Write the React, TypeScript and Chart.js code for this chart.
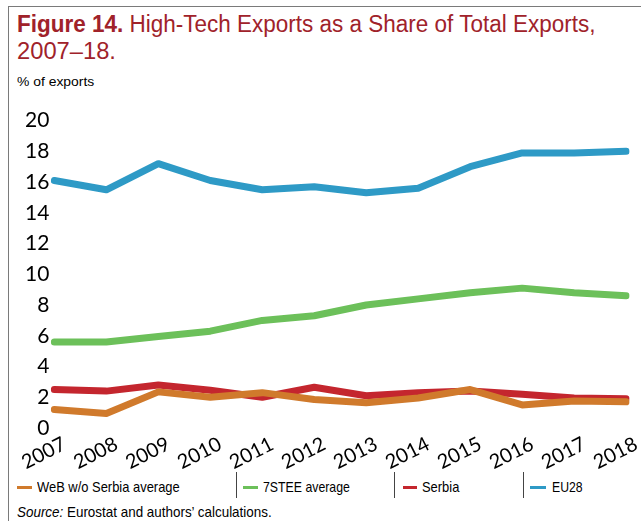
import React, { useEffect, useLayoutEffect, useRef } from "react";
import { Chart, registerables } from "chart.js";

Chart.register(...registerables);

const years = ["2007", "2008", "2009", "2010", "2011", "2012", "2013", "2014", "2015", "2016", "2017", "2018"];
const webWoSerbia = [1.2, 0.95, 2.35, 2.0, 2.3, 1.85, 1.65, 1.95, 2.5, 1.5, 1.75, 1.7];
const steeAverage = [5.6, 5.6, 5.95, 6.3, 7.0, 7.3, 8.0, 8.4, 8.8, 9.1, 8.8, 8.6];
const serbia = [2.5, 2.4, 2.8, 2.45, 2.0, 2.65, 2.1, 2.3, 2.4, 2.2, 1.95, 1.9];
const eu28 = [16.1, 15.5, 17.2, 16.1, 15.5, 15.7, 15.3, 15.6, 17.0, 17.9, 17.9, 18.0];
const yTicks = [0, 2, 4, 6, 8, 10, 12, 14, 16, 18, 20];

const seriesNames = ["WeB w/o Serbia average", "7STEE average", "Serbia", "EU28"];
const seriesColors = ["#d07a2c", "#6cc05a", "#c4262e", "#2e9ac6"];

const textFont = "'Liberation Sans', Arial, sans-serif";
const tickFont = "Lato, 'Open Sans', sans-serif";

function FitText(props: { target: number; style?: React.CSSProperties; children: React.ReactNode }) {
  const ref = useRef<HTMLSpanElement | null>(null);
  useLayoutEffect(() => {
    const el = ref.current;
    if (!el) return;
    const w = el.offsetWidth;
    if (w > 0) el.style.transform = `scaleX(${props.target / w})`;
  });
  return (
    <span
      ref={ref}
      style={{ display: "inline-block", whiteSpace: "nowrap", transformOrigin: "left center", ...props.style }}
    >
      {props.children}
    </span>
  );
}

export default function App() {
  const canvasRef = useRef<HTMLCanvasElement | null>(null);

  useEffect(() => {
    if (!canvasRef.current) return;
    const data = [webWoSerbia, steeAverage, serbia, eu28];
    const chart = new Chart(canvasRef.current, {
      type: "line",
      data: {
        labels: years,
        datasets: data.map((d, i) => ({
          label: seriesNames[i],
          data: d,
          borderColor: seriesColors[i],
          backgroundColor: seriesColors[i],
          borderWidth: 7,
          pointRadius: 0,
          tension: 0,
          borderCapStyle: "round" as const,
          borderJoinStyle: "round" as const,
        })),
      },
      options: {
        animation: false,
        responsive: false,
        maintainAspectRatio: false,
        layout: { padding: { top: 12, right: 13, bottom: 0, left: 0 } },
        plugins: { legend: { display: false }, tooltip: { enabled: false } },
        scales: {
          x: {
            offset: false,
            grid: { display: false, drawTicks: false },
            border: { display: false },
            ticks: {
              autoSkip: false,
              minRotation: 27,
              maxRotation: 27,
              labelOffset: 10,
              padding: 4,
              color: "#000",
              font: { family: tickFont, size: 20 },
            },
            afterFit: (s: any) => {
              s.height = 42;
            },
          },
          y: {
            min: 0,
            max: 20,
            grid: { display: false, drawTicks: false },
            border: { display: false },
            afterBuildTicks: (s: any) => {
              s.ticks = yTicks.map((v) => ({ value: v }));
            },
            ticks: {
              padding: 5,
              color: "#000",
              font: { family: tickFont, size: 21 },
            },
            afterFit: (s: any) => {
              s.width = 43;
            },
          },
        },
      },
    });
    return () => chart.destroy();
  }, []);

  const lineX = [17, 243, 403, 530];
  const lineW = [15, 15, 14, 16];
  const textX = [37, 263, 422, 552];
  const textW = [143, 87, 37, 31];
  const sepX = [236, 394, 523];

  return (
    <div style={{ position: "absolute", left: 0, top: 0, width: 641, height: 521, background: "#fff", overflow: "hidden" }}>
      <div style={{ position: "absolute", left: 8, top: 6, width: 633, height: 1, background: "#7a7a7a" }} />
      <div style={{ position: "absolute", left: 8, top: 6, width: 1, height: 515, background: "#7a7a7a" }} />
      <div
        style={{
          position: "absolute",
          left: 17,
          top: 11,
          fontFamily: textFont,
          fontSize: 23,
          lineHeight: "27px",
          color: "#a0222a",
        }}
      >
        <div style={{ height: 27 }}>
          <FitText target={578}>
            <span style={{ fontWeight: "bold" }}>Figure 14.</span> High-Tech Exports as a Share of Total Exports,
          </FitText>
        </div>
        <div style={{ height: 27 }}>
          <FitText target={99}>2007–18.</FitText>
        </div>
      </div>
      <div style={{ position: "absolute", left: 17, top: 74, fontFamily: textFont, fontSize: 13, color: "#000" }}>
        <FitText target={77}>% of exports</FitText>
      </div>
      <canvas ref={canvasRef} width={632} height={367} style={{ position: "absolute", left: 9, top: 103, width: 632, height: 367 }} />
      {sepX.map((x, i) => (
        <div key={"s" + i} style={{ position: "absolute", left: x, top: 472, width: 1, height: 26, background: "#444" }} />
      ))}
      {seriesNames.map((n, i) => (
        <React.Fragment key={n}>
          <div style={{ position: "absolute", left: lineX[i], top: 486, width: lineW[i], height: 3, background: seriesColors[i] }} />
          <div
            style={{
              position: "absolute",
              left: textX[i],
              top: 478,
              fontFamily: textFont,
              fontSize: 15,
              lineHeight: "18px",
              color: "#000",
            }}
          >
            <FitText target={textW[i]}>{n}</FitText>
          </div>
        </React.Fragment>
      ))}
      <div style={{ position: "absolute", left: 17, top: 503, fontFamily: textFont, fontSize: 15, lineHeight: "18px", color: "#000" }}>
        <FitText target={255}>
          <i>Source:</i> Eurostat and authors’ calculations.
        </FitText>
      </div>
    </div>
  );
}
